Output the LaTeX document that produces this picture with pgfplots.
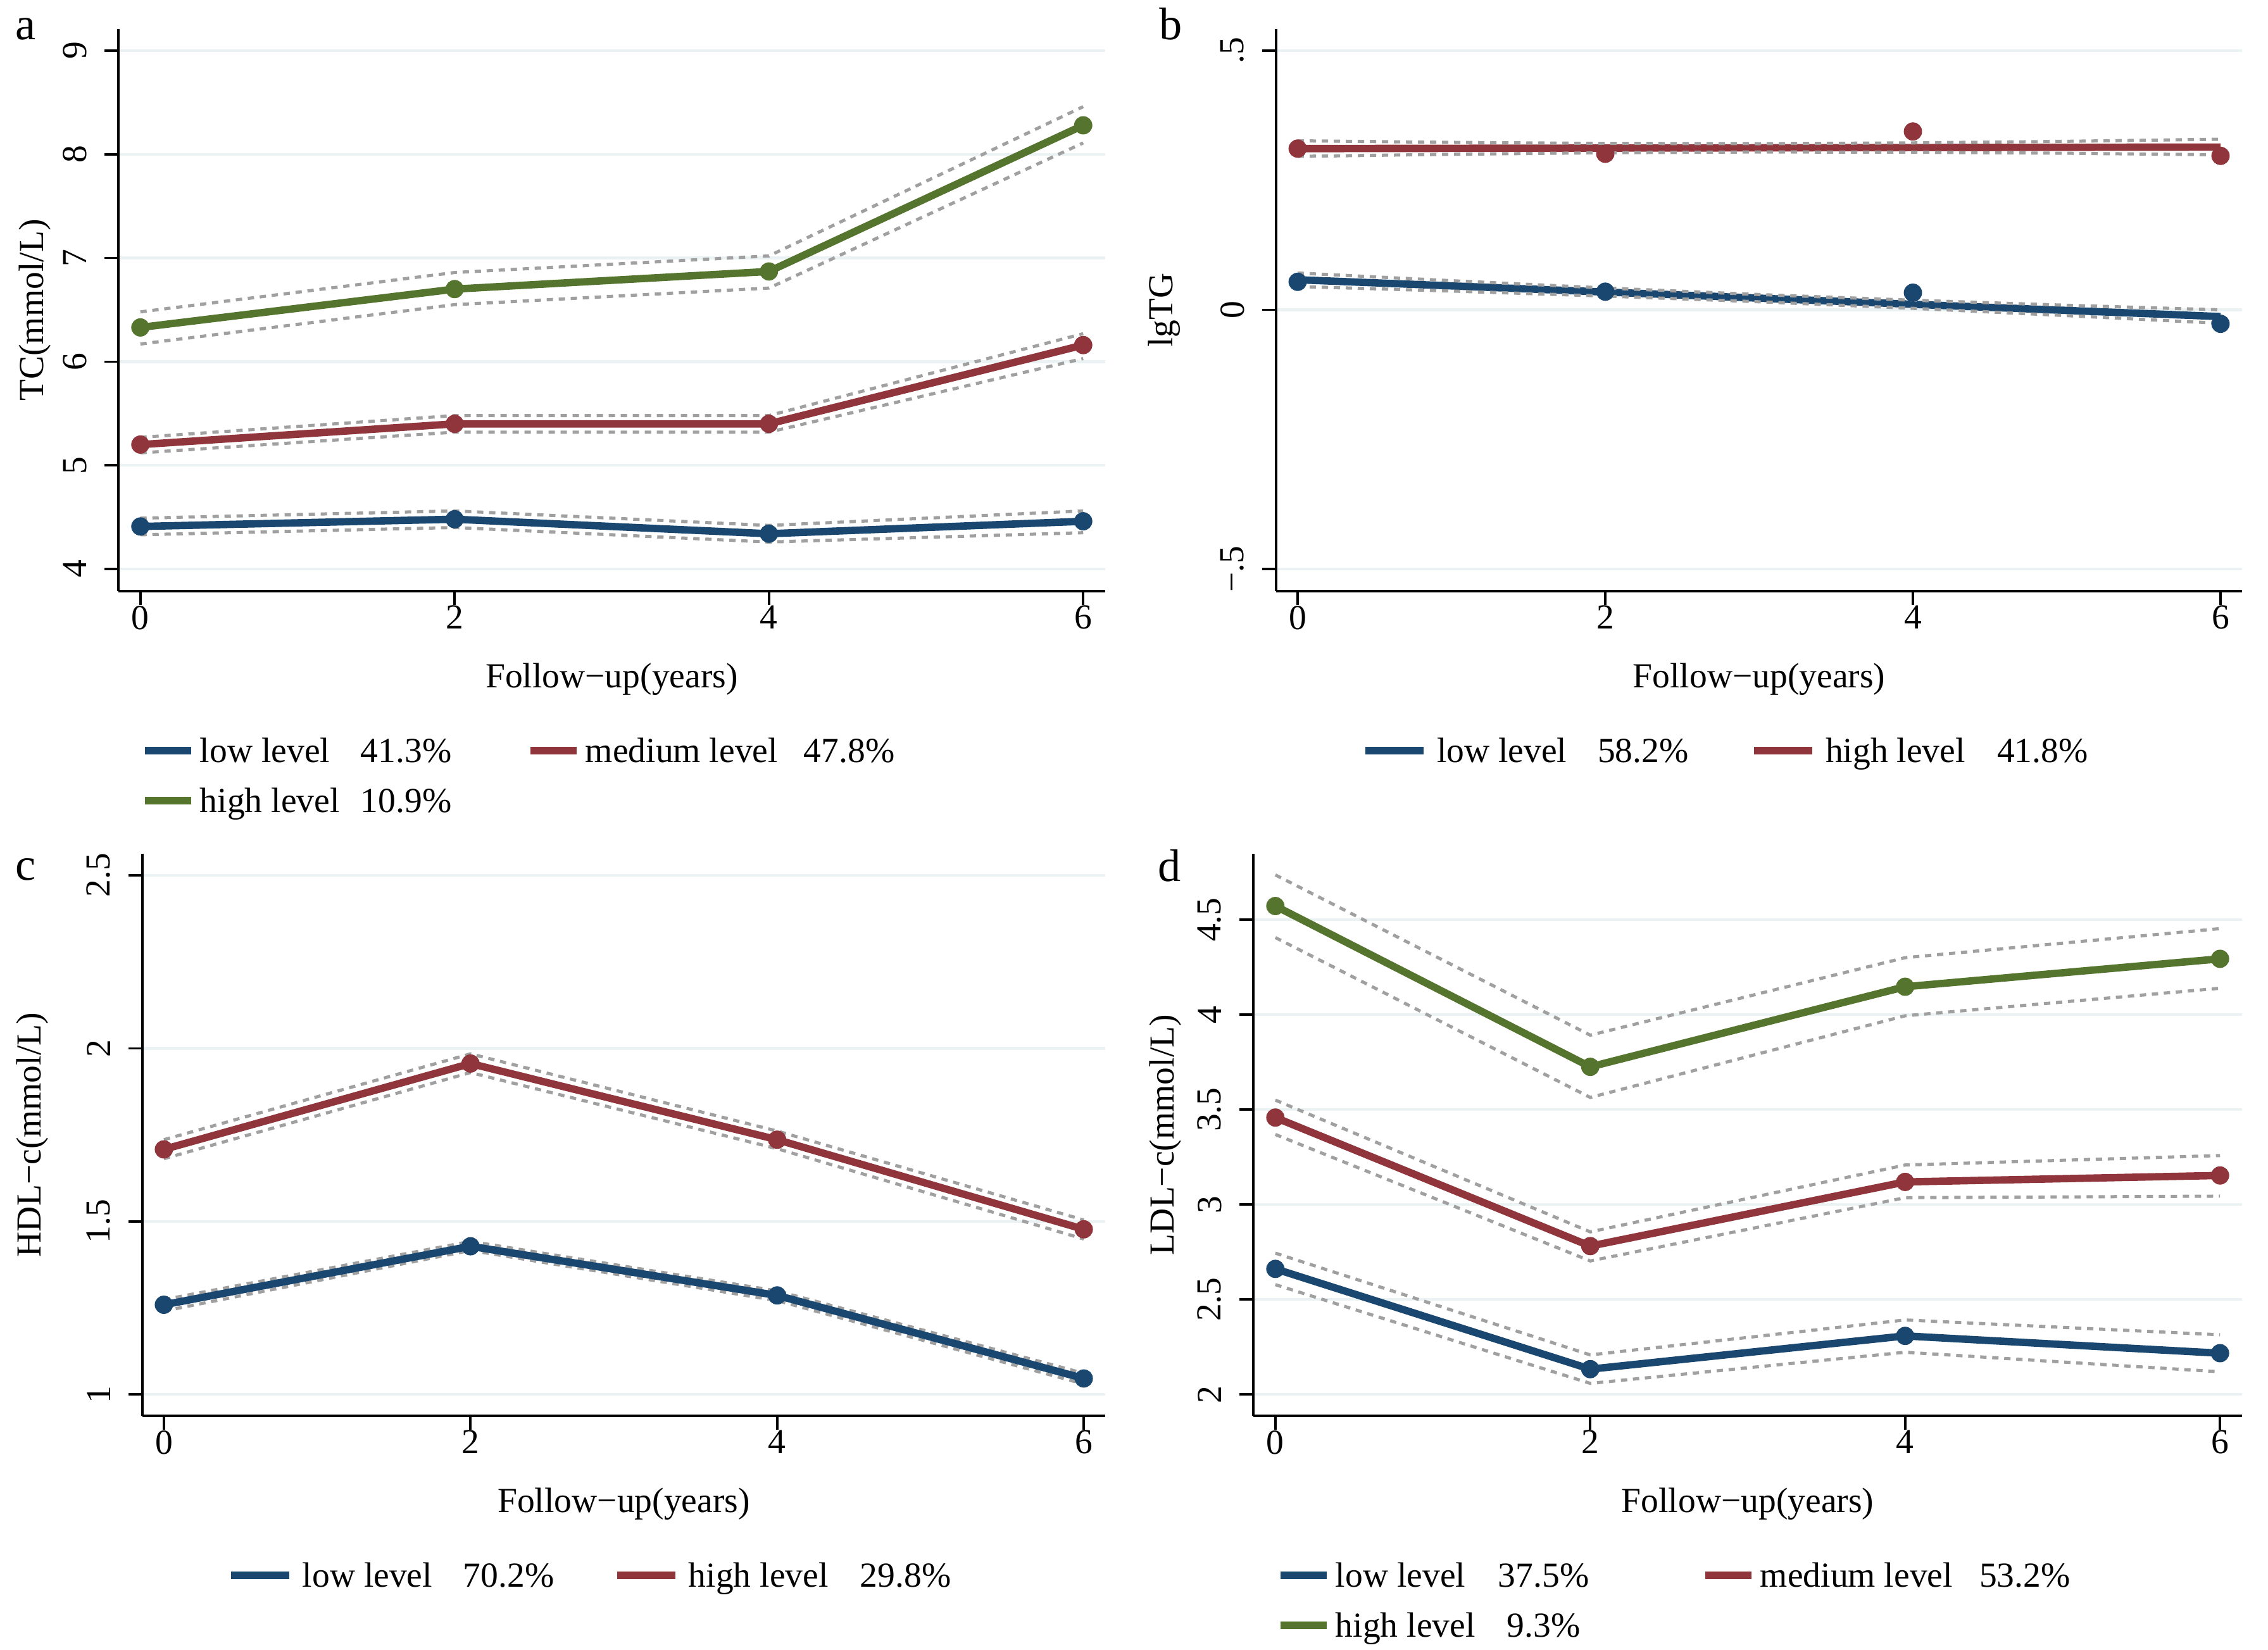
\documentclass[border=0pt]{standalone}
\usepackage{fontspec}
\setmainfont{Liberation Serif}
\usepackage{pgfplots}
\pgfplotsset{compat=1.18}

\definecolor{snavy}{RGB}{26,71,111}
\definecolor{smaroon}{RGB}{144,53,59}
\definecolor{sgreen}{RGB}{85,117,47}
\definecolor{gridc}{RGB}{234,242,243}
\definecolor{cigray}{RGB}{160,160,160}

% legend entry: colour, key length, gap, cell width, name width, name, share
\newcommand{\lent}[7]{\makebox[#4][l]{\textcolor{#1}{\rule[2.3pt]{#2}{2.2pt}}\hspace{#3}\makebox[#5][l]{#6}#7}\rule[-3.71pt]{0pt}{14.22pt}}

\pgfplotsset{
  panel/.style={
    scale only axis, height=159.84pt,
    xmin=-0.14, xmax=6.14,
    axis x line*=bottom, axis y line*=left,
    axis line style={line width=0.66pt},
    every tick/.style={line width=0.66pt, black},
    major tick length=3.96pt, tick align=outside,
    xtick={0,2,4,6}, xticklabels={0,2,4,6},
    ymajorgrids, grid style={gridc, line width=0.78pt},
    xticklabel style={anchor=north, inner sep=0pt},
    yticklabel style={rotate=90, anchor=south, inner sep=0pt},
    yticklabel shift=4.9pt,
    xlabel={Follow−up(years)},
    xlabel style={at={(axis description cs:0.5,-0.1273)}, anchor=north, inner sep=0pt},
    ylabel style={anchor=north, inner sep=0pt},
    legend cell align=left,
    legend image code/.code={},
    legend style={draw=none, fill=none, anchor=north west, legend columns=2,
      inner sep=0pt, outer sep=0pt, nodes={inner sep=0pt}, column sep=0pt, row sep=2.2pt},
  },
  mainline/.style={line width=2.1pt, color=#1, mark=*, mark size=2.5pt,
    mark options={solid, fill=#1, draw=#1, line width=0.2pt}},
  fitline/.style={line width=2.1pt, color=#1},
  dots/.style={only marks, mark=*, mark size=2.5pt, color=#1,
    mark options={fill=#1, draw=#1, line width=0.2pt}, forget plot},
  ci/.style={line width=0.9pt, cigray, dash pattern=on 1.8pt off 1.62pt, forget plot},
}

\begin{document}
\begin{tikzpicture}
\path[use as bounding box] (0pt,0pt) rectangle (644.94pt,-469.08pt);

\node[anchor=base west, inner sep=0pt, font=\fontsize{13}{15}\selectfont] at (4.14pt,-11.16pt) {a};
\node[anchor=base west, inner sep=0pt, font=\fontsize{13}{15}\selectfont] at (329.4pt,-11.16pt) {b};
\node[anchor=base west, inner sep=0pt, font=\fontsize{13}{15}\selectfont] at (4.14pt,-250.2pt) {c};
\node[anchor=base west, inner sep=0pt, font=\fontsize{13}{15}\selectfont] at (329.04pt,-250.56pt) {d};

% ---------- a: TC
\begin{axis}[panel, at={(33.66pt,-168.12pt)}, anchor=south west, width=280.62pt,
  ymin=3.786, ymax=9.208,
  ytick={4,5,6,7,8,9}, yticklabels={4,5,6,7,8,9},
  ylabel={TC(mmol/L)},
  ylabel style={at={(axis description cs:-0.1013,0.5)}},
  legend style={at={(axis description cs:0.0269,-0.2393)}},
]
\addplot[ci] coordinates {(0,6.48) (2,6.86) (4,7.02) (6,8.46)};
\addplot[ci] coordinates {(0,6.17) (2,6.55) (4,6.71) (6,8.11)};
\addplot[ci] coordinates {(0,5.27) (2,5.48) (4,5.48) (6,6.27)};
\addplot[ci] coordinates {(0,5.12) (2,5.32) (4,5.32) (6,6.03)};
\addplot[ci] coordinates {(0,4.49) (2,4.56) (4,4.42) (6,4.56)};
\addplot[ci] coordinates {(0,4.33) (2,4.40) (4,4.26) (6,4.35)};
\addplot[mainline=snavy] coordinates {(0,4.41) (2,4.48) (4,4.34) (6,4.46)};
\addlegendentry{\lent{snavy}{13.14pt}{2.52pt}{109.62pt}{45.72pt}{low level}{41.3\%}}
\addplot[mainline=smaroon] coordinates {(0,5.20) (2,5.40) (4,5.40) (6,6.16)};
\addlegendentry{\lent{smaroon}{13.14pt}{2.52pt}{110pt}{62.1pt}{medium level}{47.8\%}}
\addplot[mainline=sgreen] coordinates {(0,6.33) (2,6.70) (4,6.87) (6,8.28)};
\addlegendentry{\lent{sgreen}{13.14pt}{2.52pt}{109.62pt}{45.72pt}{high level}{10.9\%}}
\end{axis}

% ---------- b: lgTG
\begin{axis}[panel, at={(362.88pt,-168.12pt)}, anchor=south west, width=274.68pt,
  ymin=-0.5427, ymax=0.5415,
  ytick={-0.5,0,0.5}, yticklabels={−.5,0,.5},
  ylabel={lgTG},
  ylabel style={at={(axis description cs:-0.1330,0.5)}},
  legend style={at={(axis description cs:0.0924,-0.2393)}},
]
\addplot[fitline=snavy] coordinates {(0,0.058) (6,-0.013)};
\addlegendentry{\lent{snavy}{16.56pt}{3.78pt}{110.52pt}{45.72pt}{low level}{58.2\%}}
\addplot[fitline=smaroon] coordinates {(0,0.311) (6,0.314)};
\addlegendentry{\lent{smaroon}{16.56pt}{3.78pt}{110pt}{48.78pt}{high level}{41.8\%}}
\addplot[dots=snavy] coordinates {(0,0.054) (2,0.035) (4,0.033) (6,-0.027)};
\addplot[dots=smaroon] coordinates {(0,0.311) (2,0.301) (4,0.344) (6,0.297)};
\addplot[ci] coordinates {(0,0.071) (1,0.0562) (2,0.0421) (3,0.0295) (4,0.0185) (5,0.0088) (6,0.000)};
\addplot[ci] coordinates {(0,0.045) (1,0.0362) (2,0.0265) (3,0.0155) (4,0.0029) (5,-0.0112) (6,-0.026)};
\addplot[ci] coordinates {(0,0.326) (1,0.323) (2,0.321) (3,0.3205) (4,0.322) (5,0.325) (6,0.329)};
\addplot[ci] coordinates {(0,0.296) (1,0.300) (2,0.303) (3,0.3045) (4,0.304) (5,0.302) (6,0.299)};
\end{axis}

% ---------- c: HDL-c
\begin{axis}[panel, at={(40.5pt,-402.66pt)}, anchor=south west, width=273.78pt,
  ymin=0.938, ymax=2.562,
  ytick={1,1.5,2,2.5}, yticklabels={1,1.5,2,2.5},
  ylabel={HDL−c(mmol/L)},
  ylabel style={at={(axis description cs:-0.1315,0.5)}},
  legend style={at={(axis description cs:0.0920,-0.2393)}},
]
\addplot[ci] coordinates {(0,1.736) (2,1.984) (4,1.761) (6,1.504)};
\addplot[ci] coordinates {(0,1.681) (2,1.930) (4,1.710) (6,1.449)};
\addplot[ci] coordinates {(0,1.274) (2,1.442) (4,1.299) (6,1.061)};
\addplot[ci] coordinates {(0,1.241) (2,1.416) (4,1.271) (6,1.030)};
\addplot[mainline=snavy] coordinates {(0,1.259) (2,1.428) (4,1.286) (6,1.046)};
\addlegendentry{\lent{snavy}{16.56pt}{3.78pt}{109.8pt}{45.72pt}{low level}{70.2\%}}
\addplot[mainline=smaroon] coordinates {(0,1.708) (2,1.956) (4,1.736) (6,1.477)};
\addlegendentry{\lent{smaroon}{16.56pt}{3.78pt}{110pt}{48.78pt}{high level}{29.8\%}}
\end{axis}

% ---------- d: LDL-c
\begin{axis}[panel, at={(356.4pt,-402.66pt)}, anchor=south west, width=281.16pt,
  ymin=1.887, ymax=4.847,
  ytick={2,2.5,3,3.5,4,4.5}, yticklabels={2,2.5,3,3.5,4,4.5},
  ylabel={LDL−c(mmol/L)},
  ylabel style={at={(axis description cs:-0.1056,0.5)}},
  legend style={at={(axis description cs:0.0275,-0.2393)}},
]
\addplot[ci] coordinates {(0,4.736) (2,3.892) (4,4.300) (6,4.453)};
\addplot[ci] coordinates {(0,4.406) (2,3.564) (4,3.994) (6,4.139)};
\addplot[ci] coordinates {(0,3.550) (2,2.856) (4,3.208) (6,3.258)};
\addplot[ci] coordinates {(0,3.369) (2,2.703) (4,3.036) (6,3.044)};
\addplot[ci] coordinates {(0,2.744) (2,2.208) (4,2.392) (6,2.314)};
\addplot[ci] coordinates {(0,2.578) (2,2.058) (4,2.222) (6,2.119)};
\addplot[mainline=snavy] coordinates {(0,2.661) (2,2.133) (4,2.308) (6,2.217)};
\addlegendentry{\lent{snavy}{13.14pt}{2.52pt}{120.78pt}{46.26pt}{low level}{37.5\%}}
\addplot[mainline=smaroon] coordinates {(0,3.458) (2,2.781) (4,3.119) (6,3.153)};
\addlegendentry{\lent{smaroon}{13.14pt}{2.52pt}{110pt}{62.28pt}{medium level}{53.2\%}}
\addplot[mainline=sgreen] coordinates {(0,4.572) (2,3.725) (4,4.147) (6,4.294)};
\addlegendentry{\lent{sgreen}{13.14pt}{2.52pt}{120.78pt}{48.78pt}{high level}{9.3\%}}
\end{axis}
\end{tikzpicture}
\end{document}
